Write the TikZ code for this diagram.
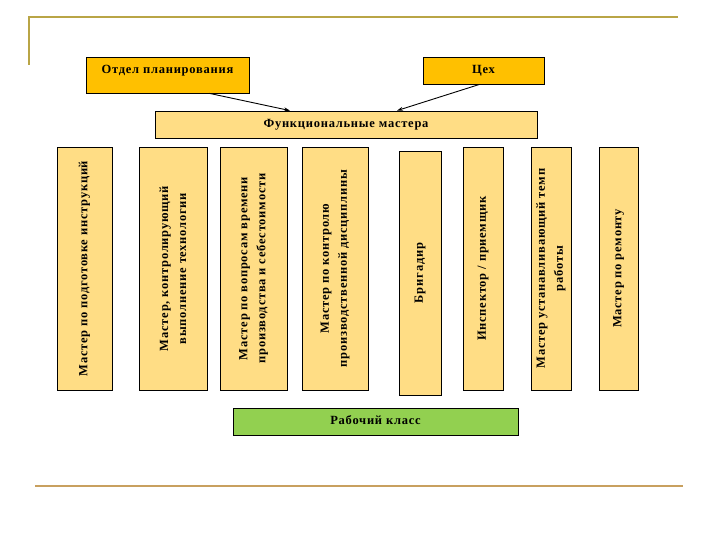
\documentclass[tikz,border=0pt]{standalone}
\usepackage{fontspec}
\setmainfont{Liberation Serif}[LetterSpace=6]
\usetikzlibrary{arrows.meta}
\definecolor{rulegold}{RGB}{185,165,70}
\definecolor{ruletan}{RGB}{200,160,95}
\definecolor{headfill}{RGB}{255,192,0}
\definecolor{masterfill}{RGB}{255,221,133}
\definecolor{workfill}{RGB}{146,208,80}

\begin{document}
\begin{tikzpicture}[x=1pt,y=-1pt,
  box/.style={draw=black, line width=0.8pt, inner sep=0pt, font=\fontsize{12.5}{18}\selectfont\bfseries, align=center},
  headbox/.style={box, fill=headfill},
  masterbox/.style={box, fill=masterfill, rotate=90, minimum width=243pt},
  link/.style={-{Stealth[length=6pt,width=4pt]}, line width=0.9pt}]
\useasboundingbox (0,0) rectangle (720,540);
% frame lines
\draw[rulegold, line width=2pt] (29,65) -- (29,17.5) -- (678,17.5);
\draw[ruletan, line width=2pt] (35,486) -- (683,486);
% top level
\node[headbox, minimum width=163pt, minimum height=36pt] (plan) at (167.5,75) {};
\node[font=\fontsize{12.5}{18}\selectfont\bfseries] (plantxt) at (167.5,71) {Отдел планирования};
\node[headbox, minimum width=121pt, minimum height=27pt] (shop) at (483.5,70.5) {Цех};
\node[box, fill=masterfill, minimum width=382pt, minimum height=27pt] (func) at (346,124.5) {Функциональные мастера};
\draw[link] ([xshift=42pt]plan.south) -- ([xshift=-56pt]func.north);
\draw[link] ([xshift=-4pt]shop.south) -- ([xshift=51pt]func.north);
% masters
\node[masterbox, minimum height=55pt] (m1) at (84.5,268.5) {Мастер по подготовке инструкций};
\node[masterbox, minimum height=68pt] (m2) at (173,268.5) {Мастер, контролирующий\\выполнение технологии};
\node[masterbox, minimum height=67pt] (m3) at (253.5,268.5) {Мастер по вопросам времени\\производства и себестоимости};
\node[masterbox, minimum height=66pt] (m4) at (335,268.5) {Мастер по контролю\\производственной дисциплины};
\node[masterbox, minimum width=244pt, minimum height=42pt] (m5) at (420,273) {Бригадир};
\node[masterbox, minimum height=40pt] (m6) at (483,268.5) {Инспектор / приемщик};
\node[masterbox, minimum height=40pt] (m7) at (551,268.5) {Мастер устанавливающий темп\\работы};
\node[masterbox, minimum height=39pt] (m8) at (618.5,268.5) {Мастер по ремонту};
% workers
\node[box, fill=workfill, minimum width=285pt, minimum height=27pt, anchor=north west] (work) at (233,408) {};
\node[font=\fontsize{12.5}{18}\selectfont\bfseries] (worktxt) at (375.5,420) {Рабочий класс};
\end{tikzpicture}
\end{document}
